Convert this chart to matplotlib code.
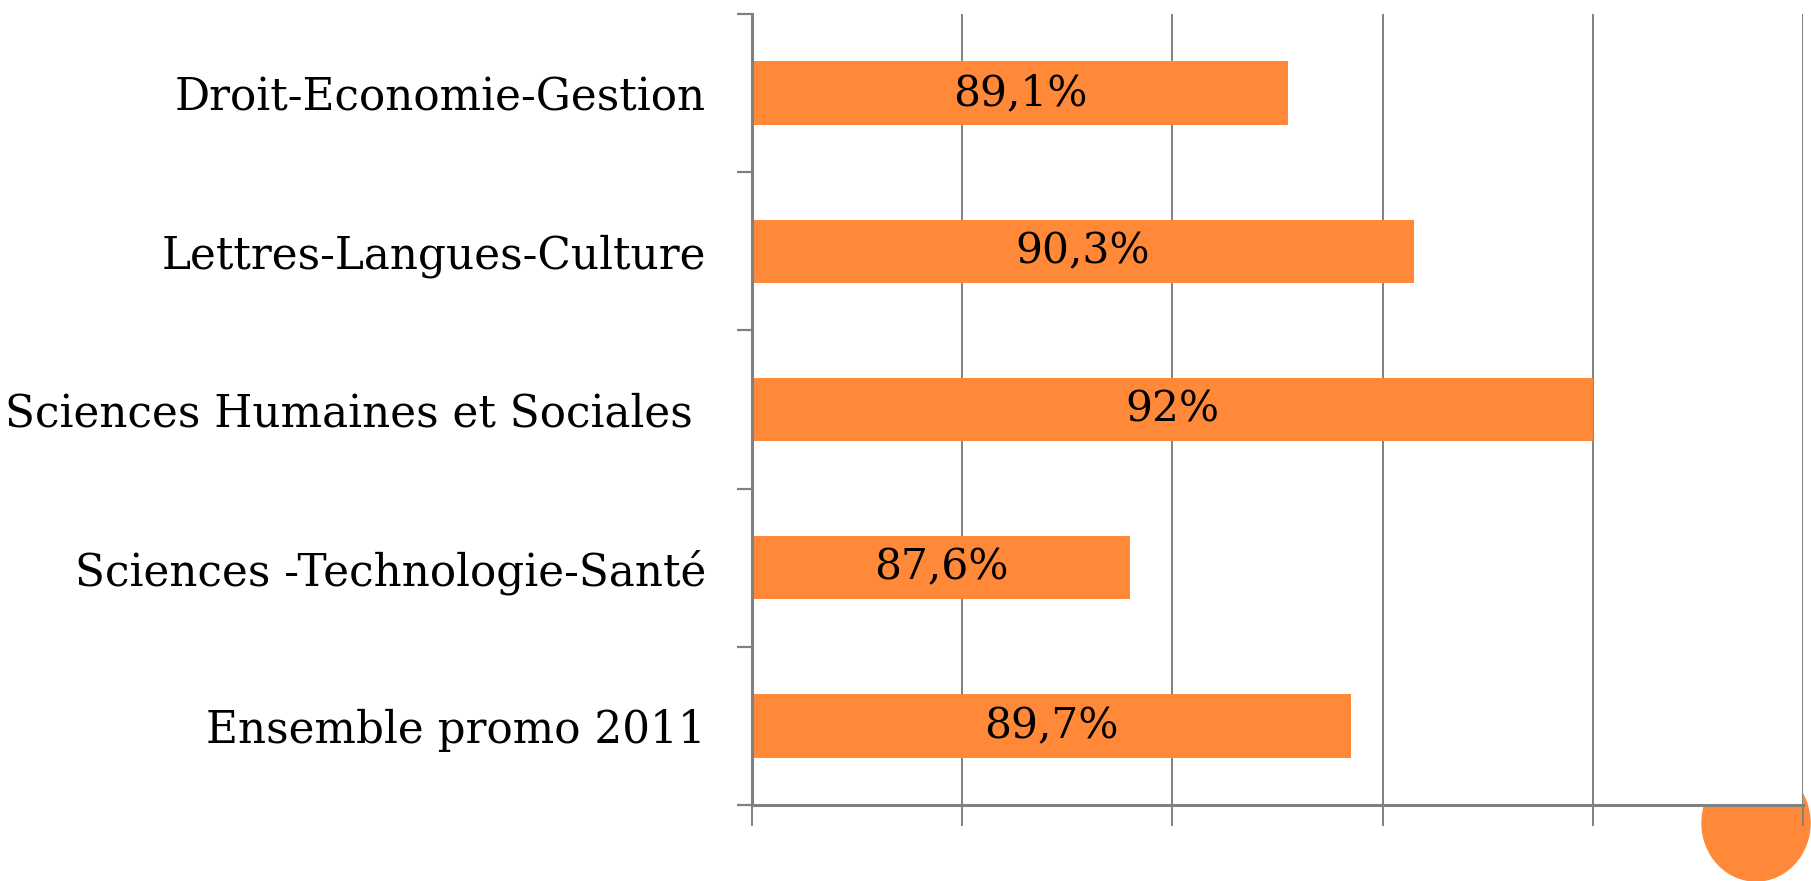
import matplotlib.pyplot as plt
import numpy as np
from matplotlib.patches import Ellipse

# données
categories = ['Droit-Economie-Gestion', 'Lettres-Langues-Culture',
              'Sciences Humaines et Sociales ', 'Sciences -Technologie-Santé',
              'Ensemble promo 2011']
values = [89.1, 90.3, 92.0, 87.6, 89.7]
value_labels = ['89,1%', '90,3%', '92%', '87,6%', '89,7%']

bar_color = '#FF8839'
axis_color = '#808080'
font = ['DejaVu Serif']

fig = plt.figure(figsize=(18.11, 8.81), dpi=100)
ax = fig.add_axes([752 / 1811, 1 - 805 / 881, (1803 - 752) / 1811, (805 - 14) / 881])

y = np.arange(len(categories))
ax.barh(y, np.array(values) - 84, left=84, height=0.4, color=bar_color, zorder=3)

for yi, v, lab in zip(y, values, value_labels):
    ax.text((84 + v) / 2, yi, lab, ha='center', va='center', fontsize=30.5,
            family=font, color='black', zorder=4)

ax.set_xlim(84, 94)
ax.set_ylim(len(categories) - 0.5, -0.5)

# grille verticale
ax.set_xticks([84, 86, 88, 90, 92, 94])
ax.set_xticklabels([])
ax.grid(axis='x', color=axis_color, linewidth=1.4, zorder=1)
ax.tick_params(axis='x', length=15, width=1.4, color=axis_color)

# étiquettes de catégories
ax.set_yticks(y)
ax.set_yticklabels(categories, fontsize=31.5, family=font)
ax.tick_params(axis='y', which='major', length=0, pad=33)
ax.set_yticks(np.arange(len(categories) + 1) - 0.5, minor=True)
ax.tick_params(axis='y', which='minor', length=11, width=1.6, color=axis_color)

for side in ['top', 'right']:
    ax.spines[side].set_visible(False)
for side in ['left', 'bottom']:
    ax.spines[side].set_color(axis_color)
    ax.spines[side].set_linewidth(2.2)
    ax.spines[side].set_zorder(5)

# cercle décoratif
circle = Ellipse((1756 / 1811, 1 - 823 / 881), 108 / 1811, 116 / 881,
                 transform=fig.transFigure, color=bar_color, zorder=-1)
fig.patches.append(circle)

fig.savefig('out.png', dpi=100)
